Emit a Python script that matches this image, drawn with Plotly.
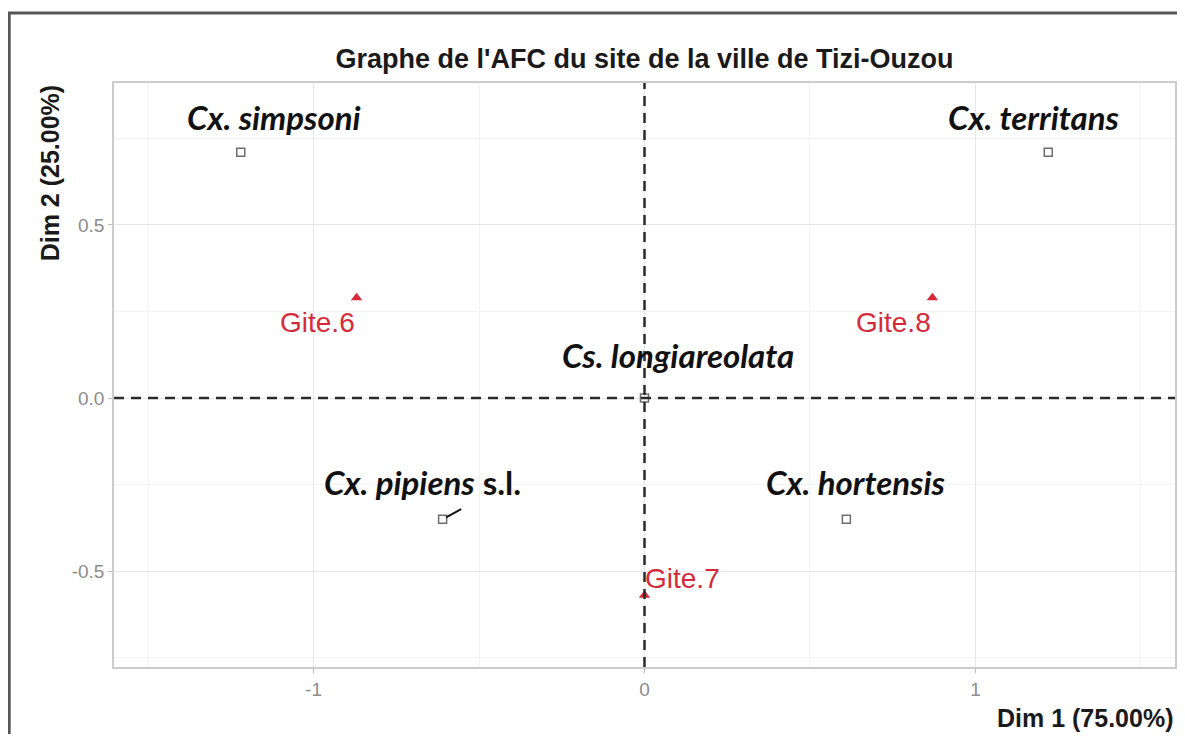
import plotly.graph_objects as go

# species (column) coordinates
species = ["<i>Cx. simpsoni</i>", "<i>Cx. territans</i>", "<i>Cs. longiareolata</i>",
           "<i>Cx. pipiens</i> s.l.", "<i>Cx. hortensis</i>"]
species_dim1 = [-1.22, 1.22, 0.0, -0.61, 0.61]
species_dim2 = [0.71, 0.71, 0.0, -0.35, -0.35]

# site (row) coordinates
sites = ["Gite.6", "Gite.8", "Gite.7"]
site_dim1 = [-0.87, 0.87, 0.0]
site_dim2 = [0.29, 0.29, -0.57]

x_ticks = [-1, 0, 1]
y_ticks = [-0.5, 0.0, 0.5]

# label offsets in pixels (repel-like placement)
species_shift = [(33, 35), (-15, 35), (33, 43), (-20, 37), (9, 37)]
site_shift = [(-39, -25), (-39, -25), (38, 17)]

red = "#d42a3a"
fig = go.Figure()

fig.add_hline(y=0, line=dict(color="#2b2b2b", width=2.5, dash="10px,7px"))
fig.add_vline(x=0, line=dict(color="#2b2b2b", width=2.5, dash="10px,7px"))

fig.add_trace(go.Scatter(
    x=species_dim1, y=species_dim2, mode="markers",
    marker=dict(symbol="square-open", size=8, color="#6e6e6e", line=dict(width=1.5)),
    showlegend=False, hoverinfo="skip"))
fig.add_trace(go.Scatter(
    x=site_dim1, y=site_dim2, mode="markers",
    marker=dict(symbol="triangle-up", size=10, color=red),
    showlegend=False, hoverinfo="skip"))

for name, x, y, (dx, dy) in zip(species, species_dim1, species_dim2, species_shift):
    fig.add_annotation(x=x, y=y, text="<b>" + name + "</b>", showarrow=False,
                       xshift=dx, yshift=dy,
                       font=dict(family="Lato", size=33, color="#111111"))
for name, x, y, (dx, dy) in zip(sites, site_dim1, site_dim2, site_shift):
    fig.add_annotation(x=x, y=y, text=name, showarrow=False,
                       xshift=dx, yshift=dy,
                       font=dict(family="Liberation Sans", size=28, color=red))

# short repel segment for Cx. pipiens
fig.add_annotation(x=species_dim1[3], y=species_dim2[3], text="", showarrow=True,
                   arrowhead=0, arrowwidth=2, arrowcolor="#111111",
                   ax=20, ay=-11, standoff=4)

# outer frame
fig.add_shape(type="rect", xref="paper", yref="paper",
              x0=-0.0988, x1=1.05, y0=-0.2, y1=1.1199,
              line=dict(color="#555555", width=3), layer="above")

axis_common = dict(
    showline=True, mirror=True, linecolor="#cccccc", linewidth=1.5,
    zeroline=False, showgrid=True, gridcolor="#e6e6e6", gridwidth=1.2,
    ticks="outside", ticklen=4, tickcolor="#bbbbbb",
    tickfont=dict(family="Liberation Sans", size=19, color="#8c8c8c"),
)

fig.update_layout(
    width=1169, height=726,
    margin=dict(l=106, r=0, t=75, b=67),
    paper_bgcolor="white", plot_bgcolor="white",
    title=dict(text="<b>Graphe de l'AFC du site de la ville de Tizi-Ouzou</b>",
               x=0.5, xref="paper", y=0.931, yanchor="middle",
               font=dict(family="Liberation Sans", size=27, color="#1a1a1a")),
    xaxis=dict(range=[-1.603, 1.603], tickvals=x_ticks,
               ticktext=[str(v) for v in x_ticks],
               minor=dict(dtick=0.5, tick0=0, showgrid=True, gridcolor="#f3f3f3"),
               **axis_common),
    yaxis=dict(range=[-0.777, 0.91], tickvals=y_ticks,
               ticktext=["%.1f" % v for v in y_ticks],
               minor=dict(dtick=0.25, tick0=0, showgrid=True, gridcolor="#f3f3f3"),
               **axis_common),
)

fig.add_annotation(xref="paper", yref="paper", x=1.0, y=-0.0873,
                   xanchor="right", yanchor="middle", showarrow=False,
                   text="<b>Dim 1 (75.00%)</b>",
                   font=dict(family="Liberation Sans", size=25, color="#1a1a1a"))
fig.add_annotation(xref="paper", yref="paper", x=-0.06, y=1.0,
                   xanchor="center", yanchor="top", textangle=-90, showarrow=False,
                   text="<b>Dim 2 (25.00%)</b>",
                   font=dict(family="Liberation Sans", size=25, color="#1a1a1a"))

fig.write_html("out.html")
